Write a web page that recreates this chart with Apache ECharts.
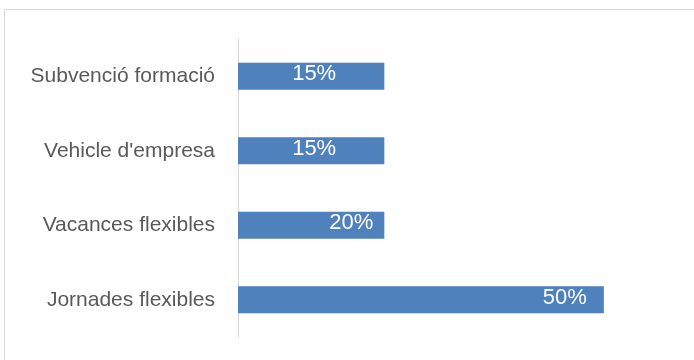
<!DOCTYPE html>
<html>
<head>
<meta charset="utf-8">
<script src="https://cdn.jsdelivr.net/npm/echarts@6/dist/echarts.min.js"></script>
<style>html,body{margin:0;padding:0;background:#fff}#c{width:694px;height:360px}</style>
</head>
<body>
<div id="c"></div>
<script>
var categories = ["Subvenció formació", "Vehicle d'empresa", "Vacances flexibles", "Jornades flexibles"];
var barValues = [2, 2, 2, 5];
var labels = ["15%", "15%", "20%", "50%"];

var labelCfg = [
  {position: 'inside', offset: [3, -2]},
  {position: 'inside', offset: [3, -2]},
  {position: 'insideRight', distance: 11, offset: [0, -2]},
  {position: 'insideRight', distance: 17, offset: [0, -2]}
];

var chart = echarts.init(document.getElementById('c'), null, {renderer: 'canvas'});
chart.setOption({
  animation: false,
  backgroundColor: '#fff',
  grid: {left: 238, top: 39, width: 439, bottom: 23, containLabel: false},
  xAxis: {type: 'value', min: 0, max: 6, show: false},
  yAxis: {
    type: 'category', data: categories, inverse: true,
    axisLine: {show: true, lineStyle: {color: '#d9d9d9', width: 1}},
    axisTick: {show: false},
    axisLabel: {color: '#595959', fontSize: 21, fontFamily: 'Liberation Sans, Arial, sans-serif', margin: 23, offset: [0,-3]}
  },
  series: [{
    type: 'bar',
    barWidth: 27,
    itemStyle: {color: '#4f81bd'},
    data: barValues.map(function (v, i) {
      return {
        value: v,
        label: Object.assign({
          show: true,
          formatter: labels[i],
          color: '#fff',
          fontSize: 22,
          fontFamily: 'Liberation Sans, Arial, sans-serif'
        }, labelCfg[i])
      };
    })
  }],
  graphic: [{
    type: 'rect',
    shape: {x: 4.5, y: 9.5, width: 800, height: 400},
    style: {fill: 'none', stroke: '#d9d9d9', lineWidth: 1},
    silent: true
  }]
});
</script>
</body>
</html>
